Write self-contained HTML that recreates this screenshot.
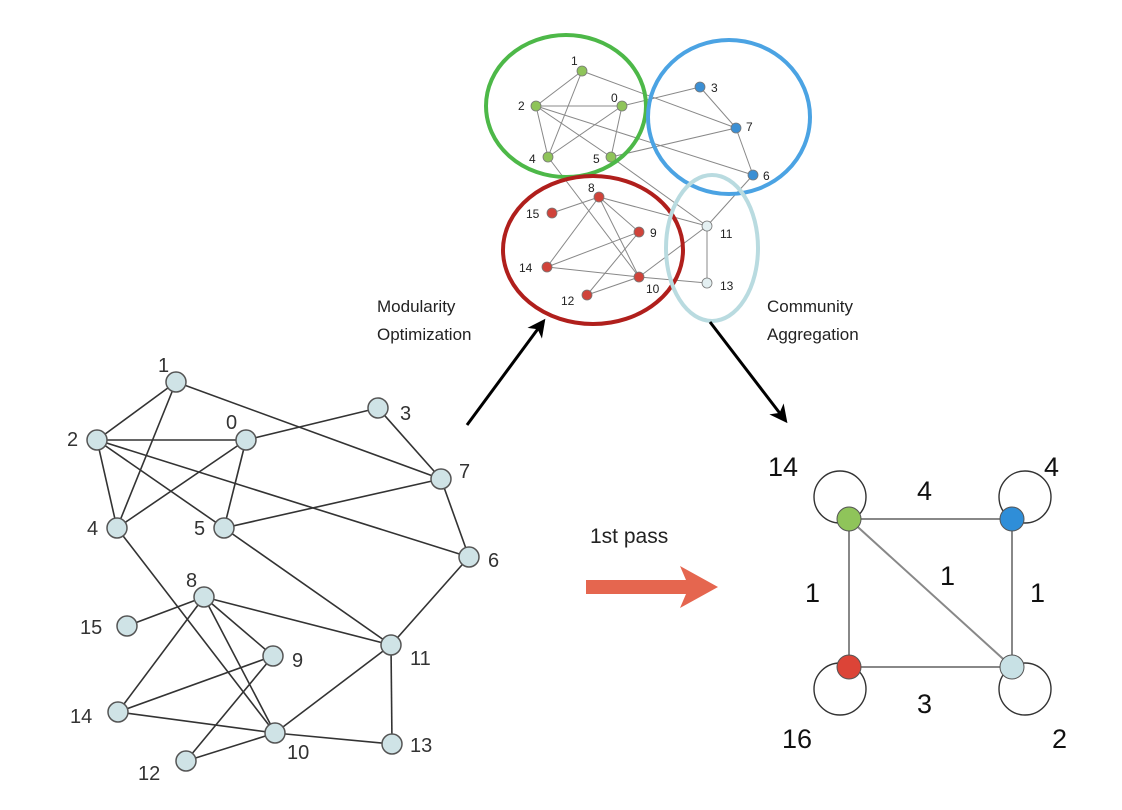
<!DOCTYPE html>
<html><head><style>body{margin:0;background:#fff}svg{display:block}</style></head><body>
<svg width="1122" height="810" viewBox="0 0 1122 810" xmlns="http://www.w3.org/2000/svg" font-family="Liberation Sans, sans-serif">
<defs><marker id="ah" markerWidth="20" markerHeight="20" refX="14" refY="9" orient="auto" markerUnits="userSpaceOnUse"><path d="M0,0 L18,9 L0,18 L5,9 Z" fill="#000"/></marker></defs>
<g stroke="#333" stroke-width="1.6">
<line x1="176" y1="382" x2="97" y2="440"/><line x1="176" y1="382" x2="117" y2="528"/><line x1="176" y1="382" x2="441" y2="479"/>
<line x1="97" y1="440" x2="246" y2="440"/><line x1="97" y1="440" x2="117" y2="528"/><line x1="97" y1="440" x2="224" y2="528"/><line x1="97" y1="440" x2="469" y2="557"/>
<line x1="246" y1="440" x2="378" y2="408"/><line x1="246" y1="440" x2="117" y2="528"/><line x1="246" y1="440" x2="224" y2="528"/>
<line x1="378" y1="408" x2="441" y2="479"/><line x1="441" y1="479" x2="224" y2="528"/><line x1="441" y1="479" x2="469" y2="557"/>
<line x1="117" y1="528" x2="275" y2="733"/><line x1="224" y1="528" x2="391" y2="645"/><line x1="469" y1="557" x2="391" y2="645"/>
<line x1="204" y1="597" x2="127" y2="626"/><line x1="204" y1="597" x2="391" y2="645"/><line x1="204" y1="597" x2="118" y2="712"/><line x1="204" y1="597" x2="273" y2="656"/><line x1="204" y1="597" x2="275" y2="733"/>
<line x1="273" y1="656" x2="118" y2="712"/><line x1="273" y1="656" x2="186" y2="761"/><line x1="118" y1="712" x2="275" y2="733"/>
<line x1="275" y1="733" x2="391" y2="645"/><line x1="275" y1="733" x2="392" y2="744"/><line x1="391" y1="645" x2="392" y2="744"/><line x1="186" y1="761" x2="275" y2="733"/>
</g>
<g fill="#cfe3e6" stroke="#555" stroke-width="1.5">
<circle cx="176" cy="382" r="10"/><circle cx="97" cy="440" r="10"/><circle cx="246" cy="440" r="10"/><circle cx="378" cy="408" r="10"/><circle cx="441" cy="479" r="10"/><circle cx="117" cy="528" r="10"/><circle cx="224" cy="528" r="10"/><circle cx="469" cy="557" r="10"/><circle cx="204" cy="597" r="10"/><circle cx="127" cy="626" r="10"/><circle cx="273" cy="656" r="10"/><circle cx="391" cy="645" r="10"/><circle cx="118" cy="712" r="10"/><circle cx="275" cy="733" r="10"/><circle cx="392" cy="744" r="10"/><circle cx="186" cy="761" r="10"/>
</g>
<g font-size="20" fill="#333">
<text x="158" y="372">1</text><text x="67" y="446">2</text><text x="226" y="429">0</text><text x="400" y="420">3</text><text x="459" y="478">7</text><text x="87" y="535">4</text><text x="194" y="535">5</text><text x="488" y="567">6</text><text x="186" y="587">8</text><text x="80" y="634">15</text><text x="292" y="667">9</text><text x="410" y="665">11</text><text x="70" y="723">14</text><text x="287" y="759">10</text><text x="410" y="752">13</text><text x="138" y="780">12</text>
</g>
<g stroke="#888" stroke-width="1">
<line x1="582" y1="71" x2="536" y2="106"/><line x1="582" y1="71" x2="548" y2="157"/><line x1="582" y1="71" x2="736" y2="128"/>
<line x1="536" y1="106" x2="622" y2="106"/><line x1="536" y1="106" x2="548" y2="157"/><line x1="536" y1="106" x2="611" y2="157"/><line x1="536" y1="106" x2="753" y2="175"/>
<line x1="622" y1="106" x2="700" y2="87"/><line x1="622" y1="106" x2="548" y2="157"/><line x1="622" y1="106" x2="611" y2="157"/>
<line x1="700" y1="87" x2="736" y2="128"/><line x1="736" y1="128" x2="611" y2="157"/><line x1="736" y1="128" x2="753" y2="175"/>
<line x1="548" y1="157" x2="639" y2="277"/><line x1="611" y1="157" x2="707" y2="226"/><line x1="753" y1="175" x2="707" y2="226"/>
<line x1="599" y1="197" x2="552" y2="213"/><line x1="599" y1="197" x2="707" y2="226"/><line x1="599" y1="197" x2="547" y2="267"/><line x1="599" y1="197" x2="639" y2="232"/><line x1="599" y1="197" x2="639" y2="277"/>
<line x1="639" y1="232" x2="547" y2="267"/><line x1="639" y1="232" x2="587" y2="295"/><line x1="547" y1="267" x2="639" y2="277"/>
<line x1="639" y1="277" x2="707" y2="226"/><line x1="639" y1="277" x2="707" y2="283"/><line x1="707" y1="226" x2="707" y2="283"/><line x1="587" y1="295" x2="639" y2="277"/>
</g>
<g stroke="#777" stroke-width="0.8">
<g fill="#8fc45a"><circle cx="582" cy="71" r="5"/><circle cx="536" cy="106" r="5"/><circle cx="622" cy="106" r="5"/><circle cx="548" cy="157" r="5"/><circle cx="611" cy="157" r="5"/></g>
<g fill="#3b8fd4"><circle cx="700" cy="87" r="5"/><circle cx="736" cy="128" r="5"/><circle cx="753" cy="175" r="5"/></g>
<g fill="#d0433a"><circle cx="599" cy="197" r="5"/><circle cx="552" cy="213" r="5"/><circle cx="639" cy="232" r="5"/><circle cx="547" cy="267" r="5"/><circle cx="639" cy="277" r="5"/><circle cx="587" cy="295" r="5"/></g>
<g fill="#e4f0f2"><circle cx="707" cy="226" r="5"/><circle cx="707" cy="283" r="5"/></g>
</g>
<g font-size="12" fill="#222">
<text x="571" y="65">1</text><text x="518" y="110">2</text><text x="611" y="102">0</text><text x="711" y="92">3</text><text x="746" y="131">7</text><text x="529" y="163">4</text><text x="593" y="163">5</text><text x="763" y="180">6</text><text x="588" y="192">8</text><text x="526" y="218">15</text><text x="650" y="237">9</text><text x="720" y="238">11</text><text x="519" y="272">14</text><text x="646" y="293">10</text><text x="720" y="290">13</text><text x="561" y="305">12</text>
</g>
<g fill="none" stroke-width="4">
<ellipse cx="566" cy="106" rx="80" ry="71" stroke="#4db848"/>
<ellipse cx="729" cy="117" rx="81" ry="77" stroke="#4ba3e3"/>
<ellipse cx="593" cy="250" rx="90" ry="74" stroke="#b01f1c"/>
<ellipse cx="712" cy="248" rx="46" ry="73" stroke="#b9dbe0"/>
</g>
<g font-size="17" fill="#222">
<text x="377" y="312">Modularity</text><text x="377" y="340">Optimization</text>
<text x="767" y="312">Community</text><text x="767" y="340">Aggregation</text>
<text x="590" y="543" font-size="21">1st pass</text>
</g>
<line x1="467" y1="425" x2="543" y2="322" stroke="#000" stroke-width="3" marker-end="url(#ah)"/>
<line x1="710" y1="322" x2="785" y2="420" stroke="#000" stroke-width="3" marker-end="url(#ah)"/>
<path d="M586,580 L686,580 L680,566 L718,587 L680,608 L686,594 L586,594 Z" fill="#e5664f"/>
<g fill="none" stroke="#333" stroke-width="1.4">
<circle cx="840" cy="497" r="26"/><circle cx="1025" cy="497" r="26"/><circle cx="840" cy="689" r="26"/><circle cx="1025" cy="689" r="26"/>
</g>
<g stroke="#888" stroke-width="2">
<line x1="849" y1="519" x2="1012" y2="519"/><line x1="849" y1="519" x2="849" y2="667"/><line x1="1012" y1="519" x2="1012" y2="667"/><line x1="849" y1="667" x2="1012" y2="667"/><line x1="849" y1="519" x2="1012" y2="667"/>
</g>
<g stroke="#555" stroke-width="1">
<circle cx="849" cy="519" r="12" fill="#8fc45a"/><circle cx="1012" cy="519" r="12" fill="#2f8ed8"/><circle cx="849" cy="667" r="12" fill="#dc4437"/><circle cx="1012" cy="667" r="12" fill="#c8e1e5"/>
</g>
<g font-size="27" fill="#111">
<text x="768" y="476">14</text><text x="1044" y="476">4</text><text x="782" y="748">16</text><text x="1052" y="748">2</text>
<text x="917" y="500">4</text><text x="805" y="602">1</text><text x="940" y="585">1</text><text x="1030" y="602">1</text><text x="917" y="713">3</text>
</g>
</svg>
</body></html>
